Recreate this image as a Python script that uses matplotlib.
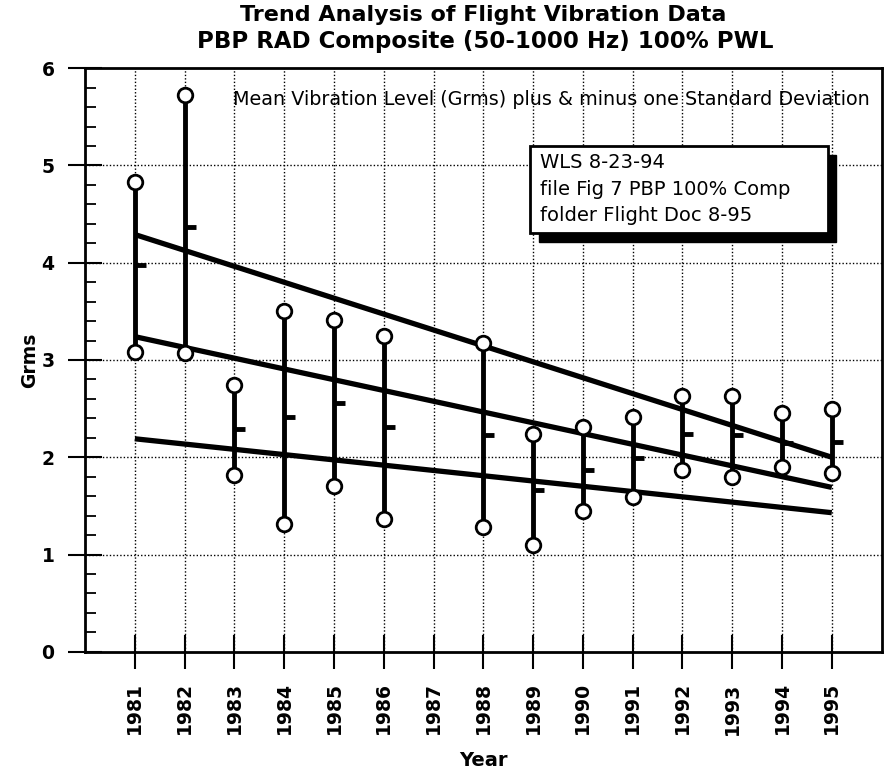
import numpy as np
import matplotlib.pyplot as plt
from matplotlib.patches import Rectangle

# Valores
years = [1981, 1982, 1983, 1984, 1985, 1986, 1988, 1989, 1990, 1991, 1992, 1993, 1994, 1995]
upper = [4.83, 5.72, 2.74, 3.50, 3.41, 3.25, 3.17, 2.24, 2.31, 2.41, 2.63, 2.63, 2.46, 2.50]
lower = [3.08, 3.07, 1.82, 1.31, 1.70, 1.37, 1.28, 1.10, 1.45, 1.59, 1.87, 1.80, 1.90, 1.84]
mean = [3.98, 4.37, 2.29, 2.41, 2.56, 2.31, 2.23, 1.66, 1.87, 1.99, 2.24, 2.23, 2.15, 2.16]

# Retas de tendencia (1981 -> 1995)
trend_years = [1981, 1995]
trend_upper = [4.29, 2.00]
trend_mean = [3.24, 1.69]
trend_lower = [2.19, 1.43]

tick_years = list(range(1981, 1996))

fig = plt.figure(figsize=(8.86, 7.75), dpi=100)
ax = fig.add_axes([0.096, 0.159, 0.899, 0.753])

# grade pontilhada
for yr in tick_years:
    ax.axvline(yr, color='black', ls=(0, (1, 1.5)), lw=1.0, zorder=1)
for v in range(1, 6):
    ax.axhline(v, color='black', ls=(0, (1, 1.5)), lw=1.0, zorder=1)

# barras +/- um desvio padrao
ax.vlines(years, lower, upper, color='black', lw=3.5, zorder=3)
ax.plot(years, upper, 'o', mfc='white', mec='black', mew=2, ms=10.5, zorder=4)
ax.plot(years, lower, 'o', mfc='white', mec='black', mew=2, ms=10.5, zorder=4)
ax.hlines(mean, np.array(years), np.array(years) + 0.22, color='black', lw=3.5, zorder=3)

# tendencias
for tr in [trend_upper, trend_mean, trend_lower]:
    ax.plot(trend_years, tr, color='black', lw=3.8, solid_capstyle='butt', zorder=3)

ax.set_xlim(1980, 1996)
ax.set_ylim(0, 6)
ax.set_xticks(tick_years)
ax.set_xticklabels([str(y) for y in tick_years], rotation=90, fontsize=13.5, fontweight='bold')
ax.set_yticks(range(0, 7))
ax.set_yticklabels([str(v) for v in range(0, 7)], fontsize=13.5, fontweight='bold')
ax.set_yticks(np.arange(0, 6.01, 0.2), minor=True)
ax.tick_params(axis='both', which='major', direction='inout', length=24, width=1.5, color='black')
ax.tick_params(axis='y', which='major', pad=10)
ax.tick_params(axis='x', which='major', pad=10)
ax.tick_params(axis='y', which='minor', direction='in', length=8, width=1.3)
for s in ax.spines.values():
    s.set_linewidth(2)

ax.set_xlabel('Year', fontsize=14, fontweight='bold', labelpad=12)
ax.set_ylabel('Grms', fontsize=13.5, fontweight='bold')
ax.yaxis.set_label_coords(-0.058, 0.5)

fig.text(0.545, 0.981, 'Trend Analysis of Flight Vibration Data', ha='center', va='center',
         fontsize=16, fontweight='bold')
fig.text(0.548, 0.946, 'PBP RAD Composite (50-1000 Hz) 100% PWL', ha='center', va='center',
         fontsize=16.5, fontweight='bold')

fig.text(0.263, 0.871, 'Mean Vibration Level (Grms) plus & minus one Standard Deviation',
         ha='left', va='center', fontsize=13.8)

# caixa com sombra
fig.patches.append(Rectangle((0.608, 0.688), 0.336, 0.112, transform=fig.transFigure,
                             facecolor='black', edgecolor='black', zorder=5))
fig.patches.append(Rectangle((0.598, 0.700), 0.336, 0.111, transform=fig.transFigure,
                             facecolor='white', edgecolor='black', lw=2, zorder=6))
fig.text(0.610, 0.790, 'WLS 8-23-94', fontsize=14, va='center', zorder=7)
fig.text(0.610, 0.756, 'file Fig 7 PBP 100% Comp', fontsize=14, va='center', zorder=7)
fig.text(0.610, 0.722, 'folder Flight Doc 8-95', fontsize=14, va='center', zorder=7)

plt.savefig('out.png', dpi=100)
